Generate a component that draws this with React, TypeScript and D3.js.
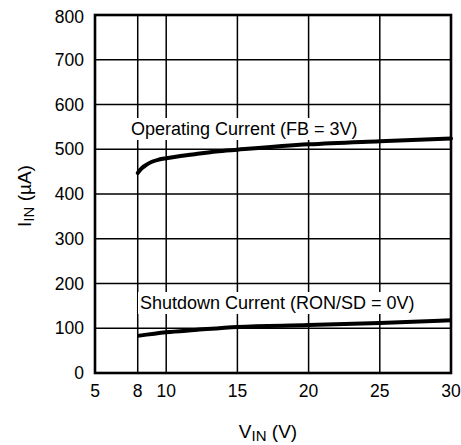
import React from "react";
import * as d3 from "d3";

const xTicks = [5, 8, 10, 15, 20, 25, 30];
const xGrid = [8, 10, 15, 20, 25];
const yTicks = [0, 100, 200, 300, 400, 500, 600, 700, 800];

const opVin = [8, 8.3, 8.6, 9, 9.5, 10, 11, 12, 13.5, 15, 20, 25, 30];
const opIin = [447, 458, 465, 472, 477, 480, 485, 489, 495, 499, 511, 518, 524];

const sdVin = [8, 10, 12, 15, 20, 25, 30];
const sdIin = [83, 91, 96, 103, 107, 112, 118];

const W = 461;
const H = 445;
const L = 95, T = 15, R = 451, B = 373;
const FONT = "'Liberation Sans', Arial, Helvetica, sans-serif";

export default function App() {
  const x = d3.scaleLinear().domain([5, 30]).range([L, R]);
  const y = d3.scaleLinear().domain([0, 800]).range([B, T]);
  const line = d3
    .line<[number, number]>()
    .x((d) => x(d[0]))
    .y((d) => y(d[1]))
    .curve(d3.curveMonotoneX);
  const opData: [number, number][] = opVin.map((v, i) => [v, opIin[i]]);
  const sdData: [number, number][] = sdVin.map((v, i) => [v, sdIin[i]]);

  const opLabel = "Operating Current (FB = 3V)";
  const sdLabel = "Shutdown Current (RON/SD = 0V)";

  return (
    <svg
      width={W}
      height={H}
      style={{ position: "absolute", left: 0, top: 0, background: "#fff" }}
      fontFamily={FONT}
    >
      <rect x={0} y={0} width={W} height={H} fill="#fff" />
      {/* gridlines */}
      {xGrid.map((v) => (
        <line key={"gx" + v} x1={x(v)} x2={x(v)} y1={T} y2={B} stroke="#000" strokeWidth={1.5} />
      ))}
      {yTicks.slice(1, -1).map((v) => (
        <line key={"gy" + v} x1={L} x2={R} y1={y(v)} y2={y(v)} stroke="#000" strokeWidth={1.5} />
      ))}
      {/* label backgrounds */}
      <rect x={129} y={118} width={234} height={22} fill="#fff" />
      <rect x={138} y={292} width={283} height={22} fill="#fff" />
      {/* curves */}
      <path d={line(opData) || ""} fill="none" stroke="#000" strokeWidth={4} strokeLinecap="round" />
      <path d={line(sdData) || ""} fill="none" stroke="#000" strokeWidth={4} />
      {/* frame */}
      <rect x={L} y={T} width={R - L} height={B - T} fill="none" stroke="#000" strokeWidth={2.6} />
      {/* labels */}
      <text x={131} y={135} fontSize={18} fill="#000">{opLabel}</text>
      <text x={140} y={309} fontSize={18} fill="#000">{sdLabel}</text>
      {/* y ticks */}
      {yTicks.map((v) => (
        <text key={"yt" + v} x={84} y={y(v) + 6 + (v === 800 ? 2 : 0)} fontSize={17.5} textAnchor="end" fill="#000">
          {v}
        </text>
      ))}
      {/* x ticks */}
      {xTicks.map((v) => (
        <text key={"xt" + v} x={x(v)} y={397} fontSize={17.5} textAnchor="middle" fill="#000">
          {v}
        </text>
      ))}
      {/* x title */}
      <text x={268} y={438} fontSize={19} textAnchor="middle" fill="#000">
        V<tspan fontSize={15} dy={3}>IN</tspan>
        <tspan dy={-3}> (V)</tspan>
      </text>
      {/* y title */}
      <text
        transform={`translate(31, 196) rotate(-90)`}
        fontSize={19}
        textAnchor="middle"
        fill="#000"
      >
        I<tspan fontSize={15} dy={3}>IN</tspan>
        <tspan dy={-3}> (µA)</tspan>
      </text>
    </svg>
  );
}
